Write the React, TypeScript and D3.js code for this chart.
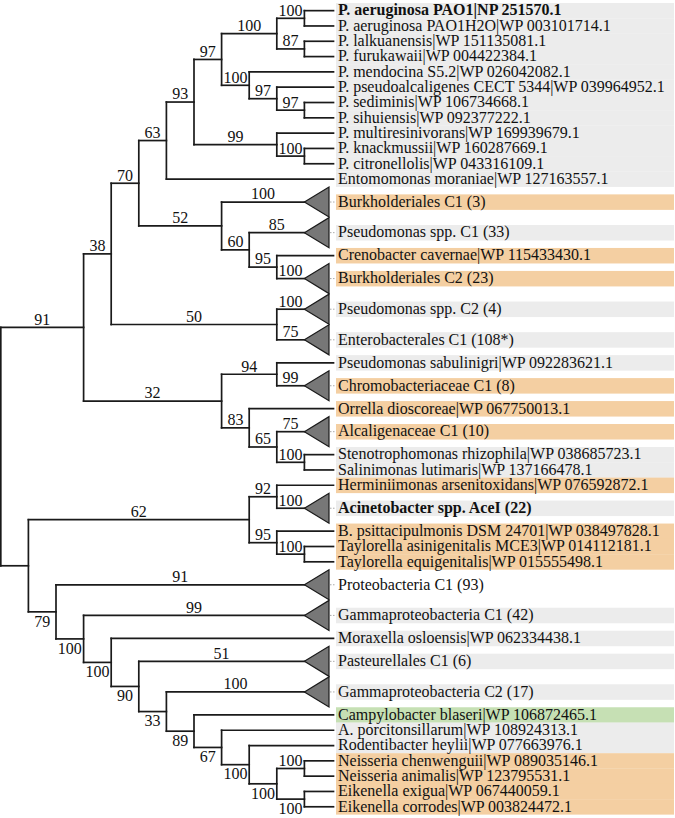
import React from "react";
import * as d3 from "d3";

// ---------- data ----------
const LEAF_NAMES: string[] = [
  "P. aeruginosa PAO1|NP 251570.1",
  "P. aeruginosa PAO1H2O|WP 003101714.1",
  "P. lalkuanensis|WP 151135081.1",
  "P. furukawaii|WP 004422384.1",
  "P. mendocina S5.2|WP 026042082.1",
  "P. pseudoalcaligenes CECT 5344|WP 039964952.1",
  "P. sediminis|WP 106734668.1",
  "P. sihuiensis|WP 092377222.1",
  "P. multiresinivorans|WP 169939679.1",
  "P. knackmussii|WP 160287669.1",
  "P. citronellolis|WP 043316109.1",
  "Entomomonas moraniae|WP 127163557.1",
  "Burkholderiales C1 (3)",
  "Pseudomonas spp. C1 (33)",
  "Crenobacter cavernae|WP 115433430.1",
  "Burkholderiales C2 (23)",
  "Pseudomonas spp. C2 (4)",
  "Enterobacterales C1 (108*)",
  "Pseudomonas sabulinigri|WP 092283621.1",
  "Chromobacteriaceae C1 (8)",
  "Orrella dioscoreae|WP 067750013.1",
  "Alcaligenaceae C1 (10)",
  "Stenotrophomonas rhizophila|WP 038685723.1",
  "Salinimonas lutimaris|WP 137166478.1",
  "Herminiimonas arsenitoxidans|WP 076592872.1",
  "Acinetobacter spp. AceI (22)",
  "B. psittacipulmonis DSM 24701|WP 038497828.1",
  "Taylorella asinigenitalis MCE3|WP 014112181.1",
  "Taylorella equigenitalis|WP 015555498.1",
  "Proteobacteria C1 (93)",
  "Gammaproteobacteria C1 (42)",
  "Moraxella osloensis|WP 062334438.1",
  "Pasteurellales C1 (6)",
  "Gammaproteobacteria C2 (17)",
  "Campylobacter blaseri|WP 106872465.1",
  "A. porcitonsillarum|WP 108924313.1",
  "Rodentibacter heylii|WP 077663976.1",
  "Neisseria chenwenguii|WP 089035146.1",
  "Neisseria animalis|WP 123795531.1",
  "Eikenella exigua|WP 067440059.1",
  "Eikenella corrodes|WP 003824472.1",
];

// g = grey, o = orange (Betaproteobacteria), n = green, w = none
const LEAF_BANDS: string[] = [
  "g", "g", "g", "g", "g", "g", "g", "g", "g", "g", "g", "g",
  "o", "g", "o", "o", "g", "g", "g", "o", "o", "o", "g", "g",
  "o", "g", "o", "o", "o", "w", "g", "g", "g", "g", "n", "g",
  "g", "o", "o", "o", "o",
];

// support of collapsed clades (null = single sequence)
const COLLAPSED_SUPPORT: (number | null)[] = [
  null, null, null, null, null, null, null, null, null, null, null, null,
  100, 85, null, 100, 100, 75, null, 99, null, 75, null, null,
  null, 100, null, null, null, 91, 99, null, 51, 100, null, null,
  null, null, null, null, null,
];

const BOLD_LEAVES: number[] = [0, 25];

// topology (leaf indices, support values; "b" = label under branch)
const CLADE_PSEUDO_A = "((0,1)100,(2,3)87)100";
const CLADE_PSEUDO_B = "(4,(5,(6,7)97)97)100";
const CLADE_PSEUDO_C = "(8,(9,10)100)99";
const CLADE_52 = "(12,(13,(14,15)95)60)52";
const CLADE_50 = "(16,17)50";
const CLADE_32 = "((18,19)94,(20,(21,(22,23)100)65)83)32";
const CLADE_62 = "((24,25)92,(26,(27,28)100)95)62";
const CLADE_79 =
  "(29,(30,(31,(32,(33,(34,(35,(36,((37,38)100,(39,40)100b)100b)100b)67b)89b)33b)90b)100b)100b)79b";

const CLADE_63 = `(((${CLADE_PSEUDO_A},${CLADE_PSEUDO_B})97,${CLADE_PSEUDO_C})93,11)63`;
const CLADE_91 = `(((${CLADE_63},${CLADE_52})70,${CLADE_50})38,${CLADE_32})91`;
const TREE_NEWICK = `(${CLADE_91},(${CLADE_62},${CLADE_79}))`;

const BAND_COLORS: Record<string, string> = {
  g: "#ececec",
  o: "#f4cfa2",
  n: "#c6e0b4",
  w: "none",
};

// ---------- parsing / layout ----------
type TNode = {
  children?: TNode[];
  leaf?: number;
  support?: string;
  below?: boolean;
  h: number;
  x: number;
  y: number;
};

function parseNewick(s: string): TNode {
  let i = 0;
  function readLabel() {
    let t = "";
    while (i < s.length && /[0-9b]/.test(s[i])) t += s[i++];
    return t;
  }
  function node(): TNode {
    if (s[i] === "(") {
      i++;
      const children: TNode[] = [];
      while (true) {
        children.push(node());
        if (s[i] === ",") {
          i++;
          continue;
        }
        if (s[i] === ")") {
          i++;
          break;
        }
      }
      const lab = readLabel();
      const below = lab.endsWith("b");
      const support = below ? lab.slice(0, -1) : lab;
      return { children, support: support || undefined, below, h: 0, x: 0, y: 0 };
    }
    const lab = readLabel();
    return { leaf: +lab, h: 0, x: 0, y: 0 };
  }
  return node();
}

const FONT = "'Liberation Serif', 'Times New Roman', serif";

export default function App() {
  const W = 675;
  const H = 818;
  const root = parseNewick(TREE_NEWICK);

  const isCollapsed = (i: number) => COLLAPSED_SUPPORT[i] !== null;

  // heights (collapsed clades have apex one level before tips)
  function setH(n: TNode): number {
    if (n.children) {
      n.h = d3.max(n.children.map(setH))! + 1;
    } else {
      n.h = isCollapsed(n.leaf!) ? 1 : 0;
    }
    return n.h;
  }
  const maxH = setH(root);

  const units = LEAF_NAMES.map((_, i) => (isCollapsed(i) ? 2 : 1));
  const totalUnits = d3.sum(units);
  const yUnit = d3.scaleLinear().domain([0, totalUnits]).range([3, 3 + totalUnits * 15.31]);
  const xLevel = d3.scaleLinear().domain([0, maxH]).range([0.8, 332]);

  const leafY: number[] = [];
  let cum = 0;
  units.forEach((u, i) => {
    leafY[i] = yUnit(cum + u / 2);
    cum += u;
  });

  function setPos(n: TNode) {
    if (n.children) {
      n.children.forEach(setPos);
      n.y = (n.children[0].y + n.children[n.children.length - 1].y) / 2;
    } else {
      n.y = leafY[n.leaf!];
    }
    n.x = xLevel(maxH - n.h);
  }
  setPos(root);

  const tipX = xLevel(maxH) + 1.5;
  const triBaseX = xLevel(maxH) - 3;
  const triHalf = yUnit(1) - yUnit(0) - 0.3;
  const bandX = 336;
  const rowH = yUnit(1) - yUnit(0);

  const lines: JSX.Element[] = [];
  const labels: JSX.Element[] = [];
  const tris: JSX.Element[] = [];
  let k = 0;

  function draw(n: TNode) {
    if (!n.children) return;
    const first = n.children[0];
    const last = n.children[n.children.length - 1];
    lines.push(
      <line key={k++} x1={n.x} x2={n.x} y1={first.y} y2={last.y} />
    );
    n.children.forEach((c) => {
      let endX = c.x;
      if (!c.children && !isCollapsed(c.leaf!)) endX = tipX;
      lines.push(<line key={k++} x1={n.x} x2={endX} y1={c.y} y2={c.y} />);
      let sup: string | undefined = c.support;
      let below = !!c.below;
      if (!c.children && isCollapsed(c.leaf!)) sup = String(COLLAPSED_SUPPORT[c.leaf!]);
      if (sup) {
        labels.push(
          <text
            key={k++}
            x={(n.x + c.x) / 2}
            y={below ? c.y + 14.8 : c.y - 2.6}
            textAnchor="middle"
          >
            {sup}
          </text>
        );
      }
      draw(c);
    });
  }
  draw(root);

  LEAF_NAMES.forEach((_, i) => {
    if (isCollapsed(i)) {
      const y = leafY[i];
      const apex = xLevel(maxH - 1);
      tris.push(
        <path
          key={"t" + i}
          d={`M${apex},${y}L${triBaseX},${y - triHalf}L${triBaseX},${y + triHalf}Z`}
          fill="#777777"
          stroke="#1a1a1a"
          strokeWidth={1.2}
          strokeLinejoin="miter"
        />
      );
      tris.push(
        <line
          key={"d" + i}
          x1={triBaseX + 1}
          x2={bandX}
          y1={y}
          y2={y}
          stroke="#aaaaaa"
          strokeWidth={1}
          strokeDasharray="1.5 1.5"
        />
      );
    }
  });

  return (
    <svg
      width={W}
      height={H}
      style={{ position: "absolute", left: 0, top: 0, background: "#ffffff" }}
      fontFamily={FONT}
      fontSize={16}
    >
      <g>
        {LEAF_NAMES.map((_, i) =>
          LEAF_BANDS[i] === "w" ? null : (
            <rect
              key={"b" + i}
              x={bandX}
              y={leafY[i] - rowH / 2}
              width={W - 1 - bandX}
              height={rowH + 0.2}
              fill={BAND_COLORS[LEAF_BANDS[i]]}
            />
          )
        )}
      </g>
      <g stroke="#1a1a1a" strokeWidth={1.7} strokeLinecap="square">
        {lines}
      </g>
      <g>{tris}</g>
      <g fill="#111111">{labels}</g>
      <g fill="#111111">
        {LEAF_NAMES.map((name, i) => (
          <text
            key={"l" + i}
            x={338}
            y={leafY[i]}
            dy="0.3em"
            fontWeight={BOLD_LEAVES.includes(i) ? "bold" : "normal"}
          >
            {name}
          </text>
        ))}
      </g>
    </svg>
  );
}
